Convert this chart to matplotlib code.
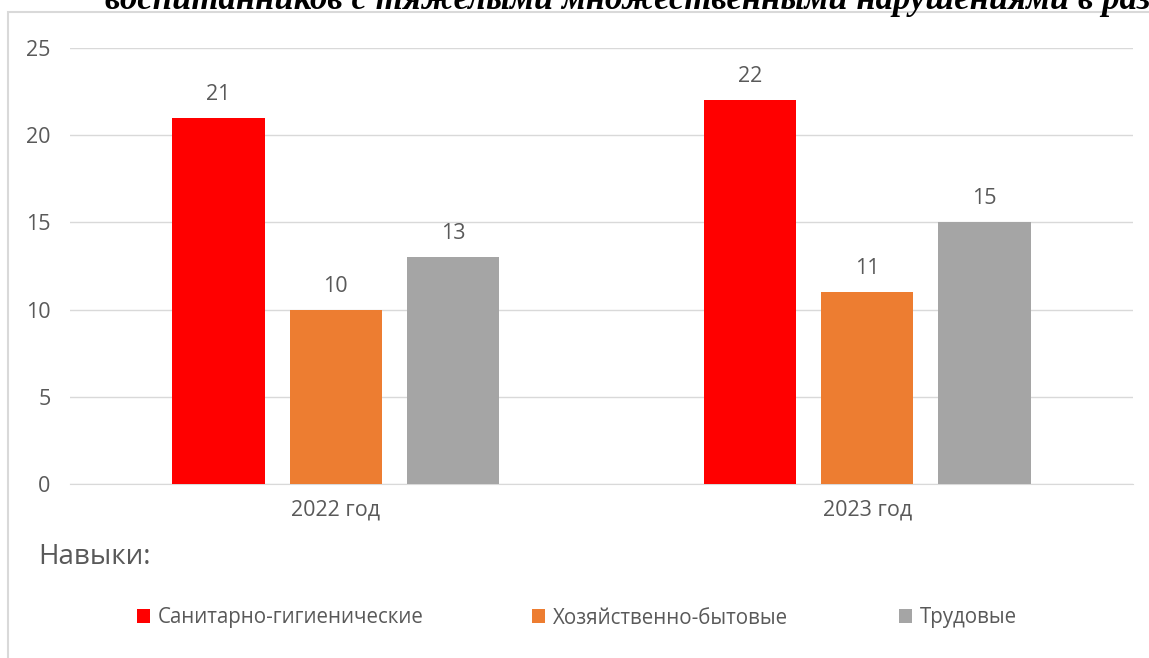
import matplotlib.pyplot as plt
import numpy as np
from matplotlib.patches import Rectangle

# data
years = ["2022 год", "2023 год"]
series_names = ["Санитарно-гигиенические", "Хозяйственно-бытовые", "Трудовые"]
sanitary = [21, 22]
household = [10, 11]
labour = [13, 15]
colors = ["#FF0000", "#ED7D31", "#A5A5A5"]

title_text = "воспитанников с тяжелыми множественными нарушениями в развитии"
legend_title = "Навыки:"

plt.rcParams['font.family'] = ['Open Sans', 'DejaVu Sans']
txt_color = "#595959"

fig = plt.figure(figsize=(11.49, 6.58), dpi=100)

# chart frame (cut off at right and bottom like in the source)
fig.patches.append(Rectangle((8/1149, -0.1), 1.2, 1 - 12/658 + 0.1, transform=fig.transFigure,
                             fill=False, edgecolor="#D9D9D9", linewidth=1.5))

# title sticking out above the frame
fig.text(105/1149, 1 - 9/658, title_text, ha="left", va="baseline", fontsize=25,
         family="Liberation Serif", fontweight="bold", fontstyle="italic", color="black")

ax = fig.add_axes([70/1149, 1 - 484/658, (1133 - 70)/1149, (484 - 48)/658])

x = np.arange(len(years))
width = 92/530
step = 117/530
handles = []
for i, (vals, name) in enumerate(zip([sanitary, household, labour], series_names)):
    bars = ax.bar(x + (i - 1)*step, vals, width, color=colors[i], label=name, zorder=3)
    handles.append(bars)
    for b, v in zip(bars, vals):
        ax.text(b.get_x() + b.get_width()/2, v + 0.75, str(v), ha="center", va="bottom",
                fontsize=15.5, color=txt_color)

ax.set_xlim(-0.5, 1.5)
ax.set_ylim(0, 25)
ax.set_yticks(range(0, 26, 5))
ax.set_xticks(x)
ax.set_xticklabels(years)
ax.grid(axis="y", color="#D9D9D9", linewidth=1, zorder=0)
for s in ["top", "right", "left"]:
    ax.spines[s].set_visible(False)
ax.spines["bottom"].set_color("#D9D9D9")
ax.tick_params(axis="both", length=0, labelsize=15.5, labelcolor=txt_color)
ax.tick_params(axis="y", pad=14)
ax.tick_params(axis="x", pad=11)

fig.text(38/1149, 1 - 557/658, legend_title, ha="left", va="center", fontsize=20, color=txt_color)

# legend entries placed one by one, like the source
legend_x = [137, 532, 899]
for h, name, lx in zip(handles, series_names, legend_x):
    fig.legend([h], [name], loc="center left", bbox_to_anchor=(lx/1149, 1 - 618/658),
               frameon=False, fontsize=14.8, labelcolor=txt_color, handlelength=0.65,
               handleheight=0.65, handletextpad=0.35, borderaxespad=0, borderpad=0)

fig.savefig("out.png", dpi=100)
